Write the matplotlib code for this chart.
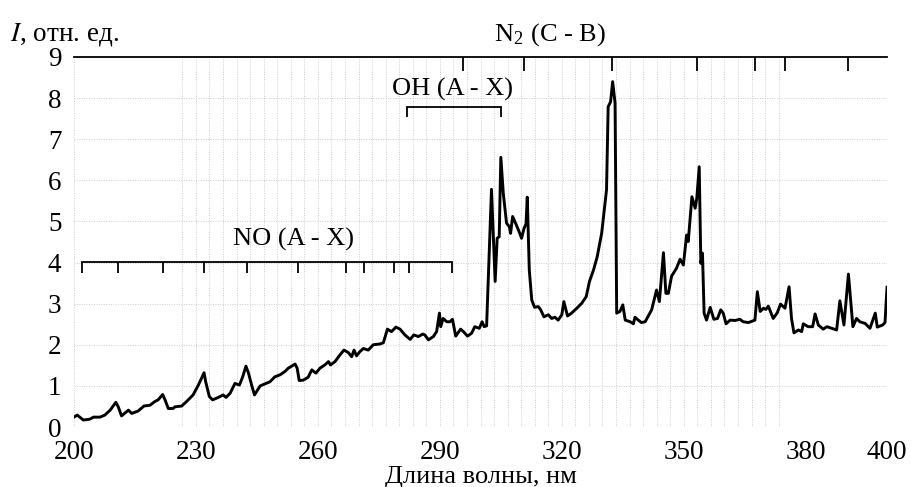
import numpy as np
import matplotlib
matplotlib.use("Agg")
import matplotlib.pyplot as plt

# emission spectrum
wavelength = [
    200.0, 200.8, 202.3, 203.9, 204.8, 206.4, 207.6, 208.9, 210.3, 210.9,
    211.7, 213.4, 214.2, 215.8, 217.2, 218.7, 219.9, 220.7, 221.8, 222.4,
    223.2, 224.4, 224.8, 226.5, 227.7, 229.3, 230.6, 232.0, 232.4, 233.3,
    234.1, 235.5, 236.7, 237.4, 238.4, 239.6, 240.7, 241.5, 242.3, 242.9,
    243.7, 244.4, 245.8, 247.0,
    248.2, 249.4, 250.7, 251.9, 252.7, 254.4, 254.9, 255.4, 256.4, 257.6,
    258.5, 259.5, 260.5, 261.7, 262.6, 263.1, 264.2, 265.4, 266.4, 267.5,
    268.3, 268.9, 269.5, 270.3, 271.2, 272.4, 273.6, 275.3, 276.1, 277.1,
    278.1, 279.2, 280.2, 281.4, 282.7, 283.6, 284.7, 285.8, 286.3, 287.2,
    288.4, 289.2, 289.9, 290.2, 290.8, 291.7, 292.5, 293.1, 293.9, 295.1,
    295.8, 296.8, 297.8, 298.6, 299.7, 300.4, 300.9, 301.5,
    302.7, 303.6, 304.1, 304.6, 305.0, 305.6, 306.4, 307.1, 307.4, 307.9,
    308.7, 309.5, 310.1, 310.7, 311.2, 311.5, 312.0, 312.6, 313.3, 314.2,
    314.8, 315.6, 316.7, 317.5, 318.3, 319.1, 320.0, 320.5, 321.4, 322.4,
    323.7, 324.9, 326.0, 326.8, 327.8, 328.7, 329.8, 331.0, 331.4, 332.0,
    332.5, 333.1, 333.5, 334.3, 335.0, 335.6, 336.8, 337.6, 338.0, 338.8,
    339.6, 340.5,
    342.1, 343.3, 344.0, 345.0, 345.6, 346.2, 347.0, 348.2, 349.1, 349.9,
    350.7, 351.1, 352.0, 352.8, 353.2, 353.8, 354.2, 354.6, 355.0, 355.6,
    356.5, 357.4, 358.3, 359.1, 359.7, 360.4, 361.4, 362.6, 363.8, 364.6,
    365.9, 367.5, 368.1, 368.8, 369.6, 370.2, 370.8, 372.0, 373.0, 373.8,
    374.9, 375.9, 376.5, 377.1, 378.2, 379.0, 379.4, 380.6, 381.7, 382.3,
    383.1, 384.3, 385.2, 386.4, 387.6, 388.4, 389.4, 390.5, 391.6, 392.5,
    393.3, 394.6, 395.8, 397.1, 397.6, 398.9, 399.5, 400.0,
]
intensity = [
    0.24, 0.29, 0.17, 0.19, 0.24, 0.24, 0.29, 0.41, 0.60, 0.49,
    0.27, 0.41, 0.33, 0.39, 0.51, 0.53, 0.62, 0.66, 0.79, 0.66,
    0.45, 0.45, 0.49, 0.51, 0.62, 0.78, 1.02, 1.32, 1.10, 0.74,
    0.66, 0.72, 0.78, 0.72, 0.82, 1.06, 1.02, 1.22, 1.48, 1.32,
    1.02, 0.78, 1.00, 1.05,
    1.10, 1.22, 1.27, 1.35, 1.43, 1.53, 1.43, 1.13, 1.14, 1.21,
    1.39, 1.31, 1.43, 1.51, 1.59, 1.51, 1.59, 1.75, 1.87, 1.81,
    1.71, 1.87, 1.73, 1.83, 1.91, 1.87, 2.00, 2.02, 2.05, 2.38,
    2.32, 2.43, 2.38, 2.24, 2.13, 2.24, 2.20, 2.26, 2.24, 2.12,
    2.20, 2.32, 2.77, 2.44, 2.64, 2.56, 2.56, 2.62, 2.21, 2.38,
    2.32, 2.21, 2.28, 2.44, 2.40, 2.56, 2.44, 2.46,
    5.78, 3.54, 4.59, 4.63, 6.56, 5.69, 4.96, 4.87, 4.71, 5.12,
    4.94, 4.75, 4.59, 4.83, 4.94, 5.59, 3.82, 3.09, 2.91, 2.93,
    2.85, 2.68, 2.73, 2.64, 2.67, 2.60, 2.73, 3.05, 2.70, 2.77,
    2.89, 3.01, 3.17, 3.54, 3.82, 4.14, 4.71, 5.77, 7.79, 7.91,
    8.40, 7.88, 2.77, 2.81, 2.97, 2.60, 2.56, 2.51, 2.67, 2.60,
    2.54, 2.56,
    2.85, 3.33, 3.05, 4.24, 3.25, 3.25, 3.67, 3.86, 4.08, 3.94,
    4.67, 4.51, 5.60, 5.32, 5.56, 6.33, 3.98, 4.23, 2.77, 2.60,
    2.91, 2.62, 2.64, 2.85, 2.77, 2.51, 2.60, 2.59, 2.62, 2.56,
    2.54, 2.60, 3.29, 2.81, 2.89, 2.86, 2.94, 2.64, 2.78, 2.99,
    2.89, 3.41, 2.64, 2.29, 2.36, 2.32, 2.51, 2.44, 2.44, 2.75,
    2.48, 2.38, 2.44, 2.40, 2.36, 3.07, 2.48, 3.72, 2.44, 2.64,
    2.56, 2.52, 2.40, 2.77, 2.43, 2.48, 2.54, 3.40,
]

# band-head markers
no_heads = [201.9, 210.9, 221.8, 232.0, 242.6, 255.2, 266.8, 271.4, 278.6, 282.5, 292.9]
oh_heads = [282.0, 305.0]
n2_heads = [295.6, 310.7, 332.3, 353.2, 367.6, 374.8, 390.5]

x_ticks = [200, 230, 260, 290, 320, 350, 380, 400]
y_ticks = [0, 1, 2, 3, 4, 5, 6, 7, 8, 9]

plt.rcParams['font.family'] = ['Liberation Serif', 'DejaVu Serif']
plt.rcParams['mathtext.fontset'] = 'stix'

fig = plt.figure(figsize=(9.11, 4.87), dpi=100)
ax = fig.add_axes([0.0812, 0.1232, 0.8925, 0.7598])

# graph-paper style grid
grid_kw = dict(color='#cdcdcd', lw=0.7, ls=(0, (1, 1.5)), zorder=0)
for yv in y_ticks[:-1]:
    ax.axhline(yv, **grid_kw)
for xv in np.arange(200 + 8 * 10 / 3, 374, 10 / 3):
    ax.axvline(xv, **grid_kw)
ax.axvline(200, **grid_kw)
ax.axvline(400, **grid_kw)

ax.plot(wavelength, intensity, color='black', lw=2.1, zorder=3)

# band brackets
def bracket(heads, y, tick_len, x0=None, x1=None):
    x0 = heads[0] if x0 is None else x0
    x1 = heads[-1] if x1 is None else x1
    ax.plot([x0, x1], [y, y], color='black', lw=1.3, zorder=4, clip_on=False)
    ax.vlines(heads, y - tick_len, y, color='black', lw=1.3, zorder=4)

bracket(no_heads, 4.02, 0.27)
bracket(oh_heads, 7.79, 0.25)
bracket(n2_heads, 9.0, 0.35, x0=200, x1=400)

ax.text(254, 4.28, 'NO (A - X)', fontsize=19, ha='center', va='bottom')
ax.text(293, 7.93, 'OH (A - X)', fontsize=19, ha='center', va='bottom')
ax.text(317, 9.22, 'N$_{\\mathregular{2}}$ (C - B)', fontsize=19, ha='center', va='bottom')

ax.set_xlim(200, 400)
ax.set_ylim(0, 9)
ax.set_xticks(x_ticks)
ax.set_yticks(y_ticks)
ax.tick_params(length=0, labelsize=19.5)
ax.tick_params(axis='y', pad=9)
ax.tick_params(axis='x', pad=9)
for s in ax.spines.values():
    s.set_visible(False)

ax.set_xlabel('Длина волны, нм', fontsize=19, labelpad=1)
fig.text(0.011, 0.93, '$I$, отн. ед.', fontsize=19.5, ha='left', va='center')

fig.savefig('out.png', dpi=100)
